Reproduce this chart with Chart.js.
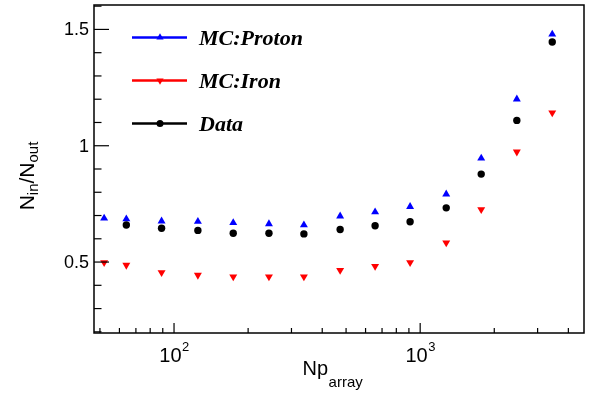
<!DOCTYPE html>
<html>
<head>
<meta charset="utf-8">
<script src="https://cdn.jsdelivr.net/npm/chart.js@4.4.0/dist/chart.umd.min.js"></script>
<style>
  html, body { margin: 0; padding: 0; background: #fff; }
  #wrap { width: 590px; height: 393px; }
</style>
</head>
<body>
<div id="wrap"><canvas id="ratio"></canvas></div>
<script>
// Np_array bin centres and N_in/N_out ratios
const npArray  = [52, 64, 89, 125, 174, 243, 337, 473, 656, 910, 1276, 1770, 2470, 3440];
const mcProton = [0.688, 0.685, 0.676, 0.674, 0.669, 0.664, 0.659, 0.697, 0.715, 0.738, 0.792, 0.946, 1.200, 1.479];
const mcIron   = [0.498, 0.487, 0.455, 0.444, 0.437, 0.437, 0.437, 0.465, 0.482, 0.498, 0.583, 0.726, 0.974, 1.142];
const dataRatio = [null, 0.659, 0.645, 0.636, 0.624, 0.624, 0.621, 0.640, 0.656, 0.673, 0.733, 0.878, 1.109, 1.446];

const yTickLabels = [0.5, 1, 1.5];
const xTickLabels = [{ v: 100, exp: '2' }, { v: 1000, exp: '3' }];
const seriesNames = ['MC:Proton', 'MC:Iron', 'Data'];

const SANS = '"Liberation Sans", Arial, sans-serif';
const SERIF = '"Liberation Serif", "Times New Roman", serif';

function points(ys) {
  const out = [];
  ys.forEach((y, i) => { if (y !== null) out.push({ x: npArray[i], y: y }); });
  return out;
}

// frame, inward ticks, tick labels, axis titles and legend (ROOT style)
const rootStyle = {
  id: 'rootStyle',
  afterDraw(chart) {
    const ctx = chart.ctx;
    const a = chart.chartArea;
    const xs = chart.scales.x, ys = chart.scales.y;
    ctx.save();

    ctx.strokeStyle = '#000';
    ctx.lineWidth = 1.5;
    ctx.strokeRect(a.left, a.top, a.right - a.left, a.bottom - a.top);

    // y ticks every 0.1, major at labelled values
    ctx.lineWidth = 1.2;
    for (let k = 2; k <= 16; k++) {
      const v = k / 10;
      const py = ys.getPixelForValue(v);
      const major = yTickLabels.some(t => Math.abs(t - v) < 1e-6);
      const len = major ? 15 : 7.5;
      ctx.beginPath();
      ctx.moveTo(a.left, py);
      ctx.lineTo(a.left + len, py);
      ctx.stroke();
    }

    // x ticks on log scale
    for (let d = 1; d <= 3; d++) {
      for (let m = 1; m <= 9; m++) {
        const v = m * Math.pow(10, d);
        if (v < xs.min || v > xs.max) continue;
        const px = xs.getPixelForValue(v);
        const len = m === 1 ? 10 : 5;
        ctx.beginPath();
        ctx.moveTo(px, a.bottom);
        ctx.lineTo(px, a.bottom - len);
        ctx.stroke();
      }
    }

    // y tick labels
    ctx.fillStyle = '#000';
    ctx.font = '18px ' + SANS;
    ctx.textAlign = 'right';
    ctx.textBaseline = 'middle';
    yTickLabels.forEach(v => {
      ctx.fillText(String(v), a.left - 5, ys.getPixelForValue(v) + 1);
    });

    // x tick labels 10^n
    ctx.textAlign = 'left';
    ctx.textBaseline = 'alphabetic';
    xTickLabels.forEach(t => {
      const px = xs.getPixelForValue(t.v);
      ctx.font = '20px ' + SANS;
      const w1 = ctx.measureText('10').width;
      ctx.font = '13px ' + SANS;
      const w2 = ctx.measureText(t.exp).width;
      const x0 = px - (w1 + w2) / 2;
      ctx.font = '20px ' + SANS;
      ctx.fillText('10', x0, 362);
      ctx.font = '13px ' + SANS;
      ctx.fillText(t.exp, x0 + w1 + 0.5, 351);
    });

    // x axis title: Np_array
    ctx.font = '20px ' + SANS;
    ctx.fillText('Np', 302.5, 374.5);
    const wNp = ctx.measureText('Np').width;
    ctx.font = '15px ' + SANS;
    ctx.fillText('array', 302.5 + wNp + 0.5, 386.5);

    // y axis title: N_in/N_out
    ctx.save();
    ctx.translate(33.5, 176);
    ctx.rotate(-Math.PI / 2);
    const parts = [
      { t: 'N', f: '21px ', dy: 0 },
      { t: 'in', f: '15px ', dy: 4 },
      { t: '/N', f: '21px ', dy: 0 },
      { t: 'out', f: '15px ', dy: 4 }
    ];
    let total = 0;
    parts.forEach(p => { ctx.font = p.f + SANS; p.w = ctx.measureText(p.t).width; total += p.w; });
    let cx = -total / 2;
    parts.forEach(p => {
      ctx.font = p.f + SANS;
      ctx.fillText(p.t, cx, p.dy);
      cx += p.w;
    });
    ctx.restore();

    // legend
    const rows = [37.5, 80.5, 123.5];
    chart.data.datasets.forEach((ds, i) => {
      const y = rows[i];
      ctx.strokeStyle = ds.backgroundColor;
      ctx.lineWidth = 2.6;
      ctx.beginPath();
      ctx.moveTo(132, y);
      ctx.lineTo(187, y);
      ctx.stroke();
      ctx.fillStyle = ds.backgroundColor;
      Chart.helpers.drawPoint(ctx, {
        pointStyle: ds.pointStyle,
        rotation: ds.rotation || 0,
        radius: ds.pointStyle === 'circle' ? 3.5 : 4.2,
        borderWidth: 0
      }, 160, y);
      ctx.fillStyle = '#000';
      ctx.font = 'italic bold 22px ' + SERIF;
      ctx.fillText(seriesNames[i], 199, y + 7.5);
    });

    ctx.restore();
  }
};

new Chart(document.getElementById('ratio'), {
  type: 'scatter',
  data: {
    datasets: [
      {
        label: seriesNames[0],
        data: points(mcProton),
        backgroundColor: '#0000ff',
        borderColor: '#0000ff',
        pointStyle: 'triangle',
        pointRadius: 4.6,
        borderWidth: 0,
        order: 3
      },
      {
        label: seriesNames[1],
        data: points(mcIron),
        backgroundColor: '#ff0000',
        borderColor: '#ff0000',
        pointStyle: 'triangle',
        rotation: 180,
        pointRadius: 4.6,
        borderWidth: 0,
        order: 2
      },
      {
        label: seriesNames[2],
        data: points(dataRatio),
        backgroundColor: '#000000',
        borderColor: '#000000',
        pointStyle: 'circle',
        pointRadius: 3.7,
        borderWidth: 0,
        order: 1
      }
    ]
  },
  options: {
    responsive: true,
    maintainAspectRatio: false,
    animation: false,
    layout: { padding: { top: 5, right: 6, left: 0, bottom: 0 } },
    plugins: {
      legend: { display: false },
      tooltip: { enabled: false }
    },
    elements: { point: { hoverRadius: 4.6 } },
    scales: {
      x: {
        type: 'logarithmic',
        min: 47.3,
        max: 4630,
        grid: { display: false },
        border: { display: false },
        ticks: { display: false },
        afterFit(scale) { scale.height = 60; }
      },
      y: {
        type: 'linear',
        min: 0.195,
        max: 1.605,
        grid: { display: false },
        border: { display: false },
        ticks: { display: false },
        afterFit(scale) { scale.width = 94; }
      }
    }
  },
  plugins: [rootStyle]
});
</script>
</body>
</html>
